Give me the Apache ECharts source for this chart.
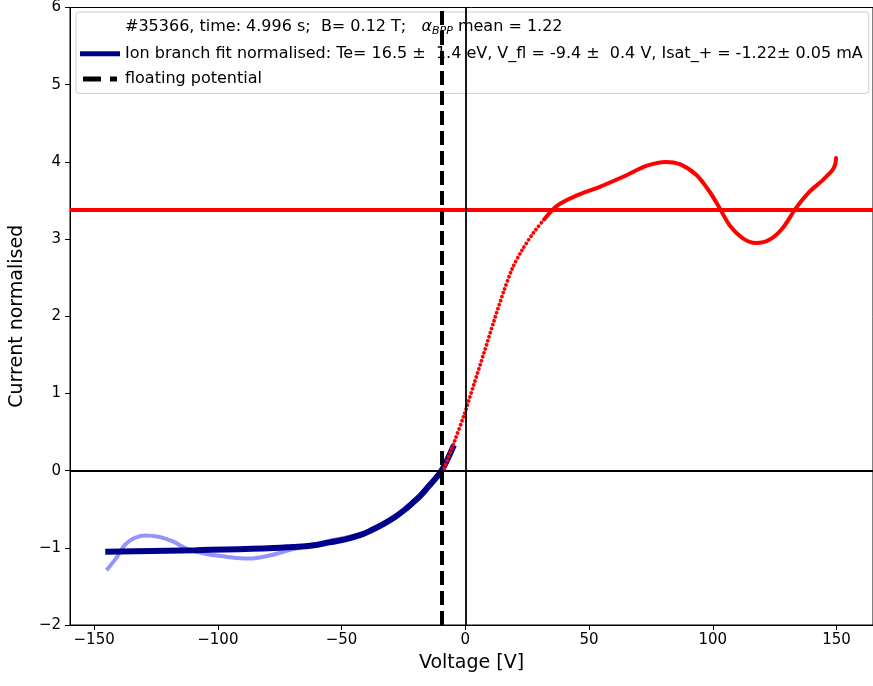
<!DOCTYPE html>
<html><head><meta charset="utf-8">
<script src="https://cdn.jsdelivr.net/npm/echarts@6/dist/echarts.min.js"></script>
<style>html,body{margin:0;padding:0;background:#fff}#c{width:873px;height:686px}</style>
</head><body><div id="c"></div>
<script>
// ---- data ----
const rawV = [-145, -141, -137.5, -133.5, -129, -123.5, -118, -112.7, -106, -98, -87.3, -79.2, -71.2, -63.2, -55.1, -47.1, -37.8, -28.4, -21.7, -18, -15, -12, -9.6, -7, -4.6];
const rawI = [-1.29, -1.13, -0.96, -0.87, -0.84, -0.86, -0.92, -1.01, -1.07, -1.11, -1.14, -1.10, -1.03, -0.97, -0.91, -0.86, -0.77, -0.60, -0.43, -0.32, -0.21, -0.10, 0.0, 0.16, 0.33];
const fitV = [-145.5, -108.7, -81.9, -70, -61.8, -55, -48.5, -42, -37.8, -33, -28.4, -25, -21.7, -18, -15, -12, -9.6, -7, -4.6];
const fitI = [-1.05, -1.03, -1.01, -0.99, -0.97, -0.93, -0.89, -0.83, -0.77, -0.69, -0.60, -0.52, -0.43, -0.32, -0.21, -0.10, 0.0, 0.16, 0.33];
const redSteepV = [-8.5, -4.5, -0.5, 3.5, 7.5, 11.5, 15.5, 19, 23, 27.5, 32];
const redSteepI = [0.03, 0.37, 0.72, 1.12, 1.52, 1.93, 2.32, 2.62, 2.86, 3.08, 3.26];
const redFlatV = [32, 37, 44, 54.6, 64, 73.4, 81, 86.7, 93.4, 98.8, 102.8, 106.8, 112.2, 117.5, 122.9, 128.2, 133.6, 139, 144.3, 148.3, 149.5, 149.8];
const redFlatI = [3.26, 3.43, 3.55, 3.68, 3.81, 3.95, 4.0, 3.97, 3.83, 3.61, 3.40, 3.18, 3.01, 2.95, 2.99, 3.14, 3.40, 3.61, 3.76, 3.89, 3.97, 4.05];
const satLevel = [3.38];
const vFloat = [-9.4];
const xTicks = [-150, -100, -50, 0, 50, 100, 150];
const yTicks = [-2, -1, 0, 1, 2, 3, 4, 5, 6];
const xRange = [-159.75, 164.75];
const yRange = [-2, 6];

const titleName = '#35366, time: 4.996 s;  B= 0.12 T;   \u03b1BPP mean = 1.22';
const titlePart1 = '#35366, time: 4.996 s;  B= 0.12 T;   ';
const titlePart2 = ' mean = 1.22';
const fitName = 'Ion branch fit normalised: Te= 16.5 \u00b1  1.4 eV, V_fl = -9.4 \u00b1  0.4 V, Isat_+ = -1.22\u00b1 0.05 mA';
const vflName = 'floating potential';

const zip = (a, b) => a.map((v, i) => [v, b[i]]);
const FONT = 'DejaVu Sans';
const minus = v => String(v).replace('-', '\u2212');

const chart = echarts.init(document.getElementById('c'), null, {renderer: 'canvas'});
chart.setOption({
  animation: false,
  backgroundColor: '#fff',
  grid: {left: 69, right: -1, top: 4, bottom: 61, show: true, borderColor: '#000', borderWidth: 1},
  xAxis: {
    type: 'value', min: xRange[0], max: xRange[1],
    name: 'Voltage [V]', nameLocation: 'middle', nameGap: 29,
    nameTextStyle: {fontFamily: FONT, fontSize: 19, color: '#000'},
    axisLine: {show: true, onZero: false, lineStyle: {color: '#000', width: 1}},
    axisTick: {show: true, length: 5, customValues: xTicks, lineStyle: {color: '#000', width: 1}},
    axisLabel: {customValues: xTicks, formatter: minus, margin: 8, fontFamily: FONT, fontSize: 15, color: '#000'},
    splitLine: {show: false}
  },
  yAxis: {
    type: 'value', min: yRange[0], max: yRange[1], interval: 1,
    name: 'Current normalised', nameLocation: 'middle', nameGap: 43, nameRotate: 90,
    nameTextStyle: {fontFamily: FONT, fontSize: 19, color: '#000'},
    axisLine: {show: true, onZero: false, lineStyle: {color: '#000', width: 1}},
    axisTick: {show: true, length: 5, customValues: yTicks, lineStyle: {color: '#000', width: 1}},
    axisLabel: {customValues: yTicks, formatter: minus, margin: 9, fontFamily: FONT, fontSize: 15, color: '#000'},
    splitLine: {show: false}
  },
  legend: {
    orient: 'vertical', left: 76, top: 12,
    padding: [6.5, 6, 6.5, 4], itemGap: 9.2, itemWidth: 40, itemHeight: 5,
    backgroundColor: 'rgba(255,255,255,0.8)', borderColor: '#ccc', borderWidth: 1, borderRadius: 3,
    selectedMode: false,
    data: [
      {name: titleName, icon: 'none'},
      {name: fitName, icon: 'rect'},
      {name: vflName, icon: 'path://M0,0h18v5h-18zM27,0h7v5h-7z'}
    ],
    formatter: name => name === titleName
      ? '{t|' + titlePart1 + '}{a|\u03b1}{s|BPP}{t|' + titlePart2 + '}'
      : '{t|' + name + '}',
    textStyle: {
      fontFamily: FONT, fontSize: 16, color: '#000',
      rich: {
        t: {fontFamily: FONT, fontSize: 16, lineHeight: 20, color: '#000'},
        a: {fontFamily: FONT, fontStyle: 'italic', fontSize: 16, lineHeight: 20, color: '#000'},
        s: {fontFamily: FONT, fontStyle: 'italic', fontSize: 11, lineHeight: 14, verticalAlign: 'bottom', color: '#000'}
      }
    }
  },
  series: [
    {name: titleName, type: 'line', data: [], color: 'transparent'},
    {name: 'raw', type: 'line', data: zip(rawV, rawI), smooth: 0.35, showSymbol: false,
     lineStyle: {color: 'rgba(0,0,255,0.42)', width: 4}, z: 2},
    {name: fitName, type: 'line', data: zip(fitV, fitI), smooth: 0.4, showSymbol: false,
     color: '#00008b', lineStyle: {color: '#00008b', width: 6}, z: 3},
    {name: 'redSteep', type: 'line', data: zip(redSteepV, redSteepI), smooth: 0.3, showSymbol: false,
     lineStyle: {color: '#ff0000', width: 3.8, type: [0.01, 4.2], cap: 'round'}, z: 4},
    {name: 'redFlat', type: 'line', data: zip(redFlatV, redFlatI), smooth: 0.3, showSymbol: false,
     lineStyle: {color: '#ff0000', width: 4, cap: 'round', join: 'round'}, z: 4},
    {name: 'sat', type: 'line', data: [], z: 5,
     markLine: {symbol: 'none', silent: true, label: {show: false}, animation: false,
       lineStyle: {color: '#ff0000', width: 4, type: 'solid'},
       data: satLevel.map(v => ({yAxis: v}))}},
    {name: 'zero', type: 'line', data: [], z: 5,
     markLine: {symbol: 'none', silent: true, label: {show: false}, animation: false,
       lineStyle: {color: '#000', width: 1.8, type: 'solid'},
       data: [{yAxis: 0}, {xAxis: 0}]}},
    {name: vflName, type: 'line', data: [], color: '#000', z: 6,
     markLine: {symbol: 'none', silent: true, label: {show: false}, animation: false,
       lineStyle: {color: '#000', width: 4, type: [14, 6]},
       data: vFloat.map(v => ({xAxis: v}))}}
  ]
});
</script>
</body></html>
